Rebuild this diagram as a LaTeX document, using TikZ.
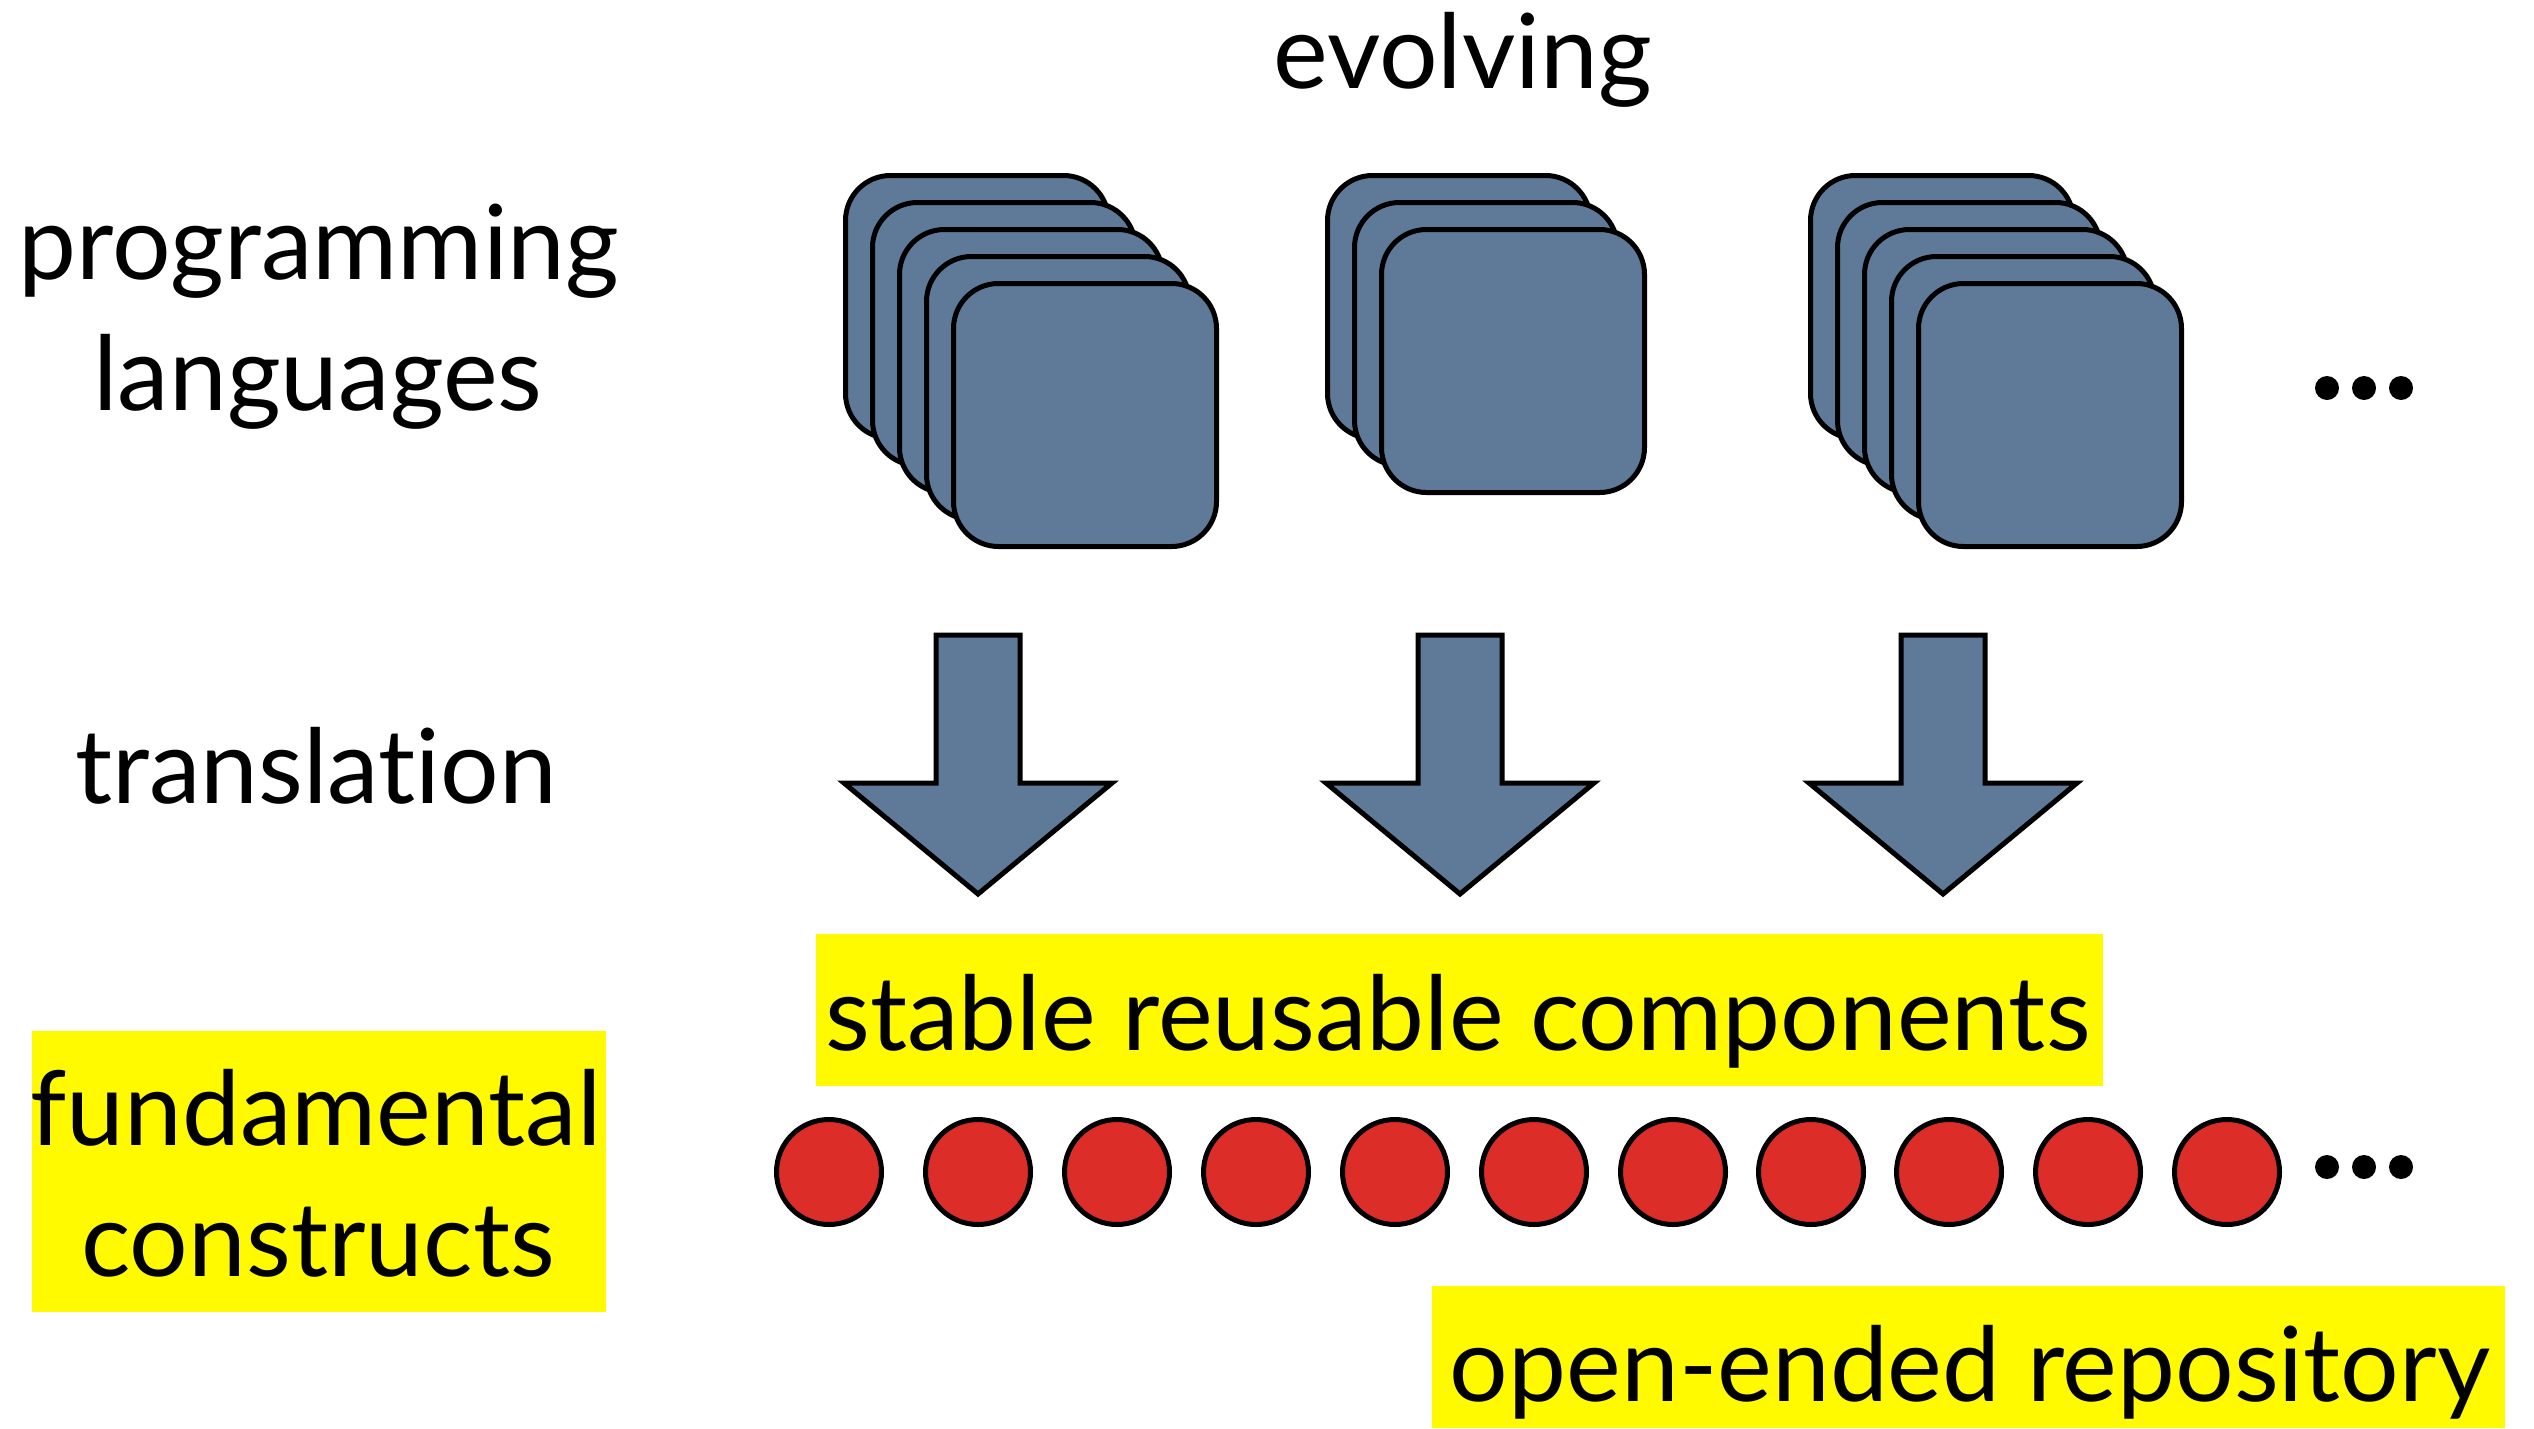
\documentclass[tikz,border=0pt]{standalone}
\usepackage{fontspec}
\setmainfont{Lato}[Ligatures=NoCommon]
\definecolor{slate}{RGB}{95,122,153}
\definecolor{dotred}{RGB}{220,45,40}
\definecolor{hilite}{RGB}{255,250,0}
\begin{document}
\begin{tikzpicture}[x=1pt,y=-1pt,
  card/.style={fill=slate,draw=black,line width=5pt,rounded corners=45pt},
  blockarrow/.style={fill=slate,draw=black,line width=5pt,line join=miter},
  atom/.style={circle,fill=dotred,draw=black,line width=5pt,minimum size=105pt,inner sep=0pt},
  blackdot/.style={circle,fill=black,minimum size=24pt,inner sep=0pt},
  hl/.style={fill=hilite,inner sep=0pt,anchor=north west},
  lbl/.style={font=\fontsize{103.5}{120}\selectfont,anchor=base,inner sep=0pt}]
\useasboundingbox (0,0) rectangle (2534,1428);
\fill[white] (0,0) rectangle (2534,1428);

% stacks of language cards, back card first
\foreach \bx/\n in {845.5/5, 1327.5/3, 1810.5/5}{
  \foreach \i in {1,...,\n}{
    \draw[card] ({\bx+27*(\i-1)},{175.5+27*(\i-1)}) rectangle ++(263,263);
  }
}

% translation arrows
\foreach \cx in {978,1460,1943}{
  \draw[blockarrow] ({\cx-42},635) -- ({\cx+42},635) -- ({\cx+42},783)
    -- ({\cx+134},783) -- (\cx,894) -- ({\cx-134},783) -- ({\cx-42},783) -- cycle;
}

% highlight boxes
\node[hl,minimum width=1287pt,minimum height=152pt] (hlstable) at (816,934) {};
\node[hl,minimum width=574pt,minimum height=281pt] (hlfund) at (32,1031) {};
\node[hl,minimum width=1073pt,minimum height=142pt] (hlrepo) at (1432,1286) {};

% labels
\node[lbl] (evolving) at (1463,88) {evolving};
\node[lbl] (prog) at (319,279) {programming};
\node[lbl] (lang) at (318,410) {languages};
\node[lbl] (transl) at (316,803) {translation};
\node[lbl] (stable) at (1458,1050) {stable reusable components};
\node[lbl] (fund) at (316,1145) {fundamental};
\node[lbl] (constr) at (318,1276) {constructs};
\node[lbl] (repo) at (1970,1401) {open-ended repository};

% repository of constructs
\foreach \k/\px in {1/829,2/978,3/1117,4/1256,5/1395,6/1534,7/1673,8/1811,9/1949,10/2088,11/2227}{
  \node[atom] (c\k) at (\px,1172) {};
}

% ellipses
\foreach \k/\px in {1/2327,2/2364,3/2401}{
  \node[blackdot] (td\k) at (\px,388) {};
  \node[blackdot] (bd\k) at (\px,1167) {};
}
\end{tikzpicture}
\end{document}
